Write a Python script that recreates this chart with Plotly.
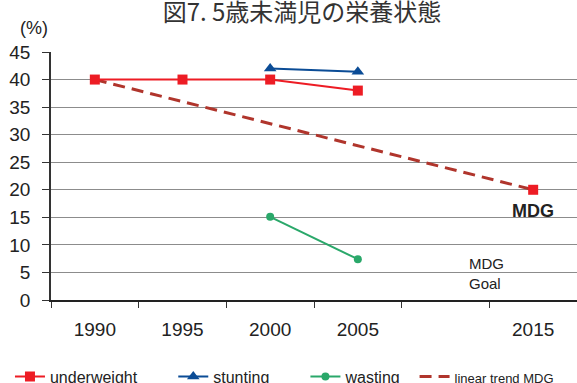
import plotly.graph_objects as go

# Survey years and prevalence (%) among children under five
tick_years = [1990, 1995, 2000, 2005, 2010, 2015]
tick_labels = ["1990", "1995", "2000", "2005", "", "2015"]

underweight_years = [1990, 1995, 2000, 2005]
underweight = [40, 40, 40, 38]

stunting_years = [2000, 2005]
stunting = [42.0, 41.4]

wasting_years = [2000, 2005]
wasting = [15.1, 7.4]

mdg_years = [2015]
mdg_goal = [20]

trend_years = [1990, 2015]
trend_values = [40, 20]

RED = "#ed1c24"
BLUE = "#0b4c96"
GREEN = "#2aa86a"
TREND = "#b0352c"
TEXT = "#222222"
SANS = "Liberation Sans, Arial, sans-serif"
NB = "\u00a0"

fig = go.Figure()

fig.add_trace(go.Scatter(
    x=trend_years, y=trend_values, mode="lines",
    line=dict(color=TREND, width=3, dash="12px,7px"),
    name='<span style="font-size:13px">linear trend MDG</span>',
    legendrank=4,
))
fig.add_trace(go.Scatter(
    x=underweight_years, y=underweight, mode="lines+markers",
    line=dict(color=RED, width=2),
    marker=dict(symbol="square", size=10, color=RED),
    name="underweight" + NB * 7, legendrank=1,
))
fig.add_trace(go.Scatter(
    x=stunting_years, y=stunting, mode="lines+markers",
    line=dict(color=BLUE, width=2),
    marker=dict(symbol="triangle-up", size=11, color=BLUE),
    name="stunting" + NB * 7, legendrank=2,
))
fig.add_trace(go.Scatter(
    x=wasting_years, y=wasting, mode="lines+markers",
    line=dict(color=GREEN, width=2),
    marker=dict(symbol="circle", size=8, color=GREEN),
    name="wasting" + NB * 2, legendrank=3,
))
fig.add_trace(go.Scatter(
    x=mdg_years, y=mdg_goal, mode="markers",
    marker=dict(symbol="square", size=10, color=RED),
    showlegend=False,
))

fig.add_annotation(x=2015, y=16.2, xref="x", yref="y", text="<b>MDG</b>",
                   showarrow=False, font=dict(family=SANS, size=18, color=TEXT))
fig.add_annotation(x=2011.23, y=4.8, xref="x", yref="y", text="MDG<br>Goal",
                   showarrow=False, xanchor="left", align="left",
                   font=dict(family=SANS, size=15, color=TEXT))
fig.add_annotation(x=-0.032, y=1.097, xref="paper", yref="paper",
                   text="(%)", showarrow=False, xanchor="center", yanchor="middle",
                   font=dict(family=SANS, size=18, color=TEXT))

fig.update_layout(
    width=577, height=383,
    margin=dict(l=51, r=0, t=52, b=83, autoexpand=False),
    paper_bgcolor="white", plot_bgcolor="white",
    title=dict(text="図7. 5歳未満児の栄養状態", x=302 / 577, xanchor="center",
               y=1 - 13 / 383, yanchor="middle",
               font=dict(family="Noto Sans CJK JP", size=24, color="#333333")),
    showlegend=True,
    legend=dict(orientation="h", x=-0.078, xanchor="left", y=-0.240, yanchor="top",
                font=dict(family=SANS, size=16, color=TEXT),
                bgcolor="rgba(0,0,0,0)", itemclick=False),
    xaxis=dict(range=[1987.5, 2017.5], tickvals=tick_years, ticktext=tick_labels,
               ticks="", showgrid=False, zeroline=False,
               showline=True, linecolor="#222222", linewidth=1.5,
               tickfont=dict(family=SANS, size=19, color=TEXT),
               ticklabelstandoff=11,
               minor=dict(tickvals=[1987.5, 1992.5, 1997.5, 2002.5, 2007.5, 2012.5],
                          ticks="outside", ticklen=6, tickcolor="#333333",
                          tickwidth=1, showgrid=False)),
    yaxis=dict(range=[0, 45], dtick=5, tick0=0,
               showgrid=True, gridcolor="#8c8c8c", gridwidth=1,
               zeroline=False, showline=True, linecolor="#333333", linewidth=1.5,
               ticks="outside", ticklen=7, tickcolor="#333333",
               tickfont=dict(family=SANS, size=19, color=TEXT),
               ticklabelstandoff=8),
)

fig.write_html("out.html")
